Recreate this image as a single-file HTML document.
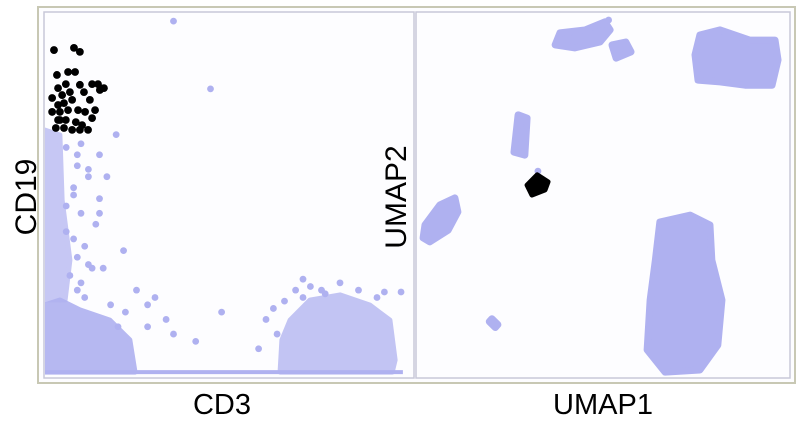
<!DOCTYPE html>
<html><head><meta charset="utf-8"><style>
html,body{margin:0;padding:0;background:#fff;}
body{width:800px;height:422px;overflow:hidden;font-family:"Liberation Sans",sans-serif;}
</style></head><body>
<svg id="c" width="800" height="422" xmlns="http://www.w3.org/2000/svg">
<defs><clipPath id="lc"><rect x="45" y="13" width="368" height="364"/></clipPath></defs>
<rect x="38" y="7" width="757" height="376" fill="#fdfdff" stroke="#c8c8b4" stroke-width="2"/>
<rect x="44" y="12" width="370" height="366" fill="#fdfdff" stroke="#c8c8d8" stroke-width="1.5"/>
<rect x="416" y="12" width="374" height="366" fill="#fdfdff" stroke="#c8c8d8" stroke-width="1.5"/>
<g id="left" clip-path="url(#lc)"></g>
<g id="right"></g>
<text x="36" y="197" font-size="30" text-anchor="middle" transform="rotate(-90 36 197)" fill="#000">CD19</text>
<text x="222" y="414" font-size="29" text-anchor="middle" fill="#000">CD3</text>
<text x="406" y="197" font-size="30" text-anchor="middle" transform="rotate(-90 406 197)" fill="#000">UMAP2</text>
<text x="603" y="414" font-size="29" text-anchor="middle" fill="#000">UMAP1</text>
</svg>
<script>
// Left panel data (CD3, CD19 in 0-100 units)
const gatedCD3 = [2.7,8.1,9.7,3.5,6.5,8.4,3.8,5.9,9.7,13,14.6,10.8,15.1,7,2.2,3.8,5.4,7.6,12.4,2.2,4.3,6.5,9.2,11.1,13,4.3,5.9,8.6,10.3,3.2,5.4,7.6,9.7,3.8,16.2,13.8,4.9,11.9];
const gatedCD19 = [89.6,90.2,89.1,82.8,83.6,83.6,79.2,80.3,80.1,80.3,80.3,78.1,78.7,78.1,76.5,74.6,75.1,76,76,72.7,72.7,73.2,73.2,72.7,71,70.5,70.5,69.9,69.1,68.3,68.3,67.8,67.8,70.5,79.2,73.2,77.3,67.8];
const otherCD3 = [35,45,19.5,15,21.5,6,9,12,8,10,14,6,11,9,13,7,10,8,12,15,6,9,11,18,22,30,28,35,41,48,58,60,63,25,20,16,28,33,96.5,92,68,70,65,72,75,70,76,80,85,90,62,17,12,9,15,8,10];
const otherCD19 = [97.5,79,66.5,61,34.8,63,58,55,50,45,42,40,36,33,30,28,26,38,31,45,47,24,22,20,18,22,14,12,10,18,8,16,12,24,14,30,20,16,23.5,23.5,24,22,21,25,24,27,23,26,24,22,19,55,57,61,49,52,64];
const blobCD3 = [[0,4.3,9.7,17.8,23.2,24.6,0],[0,4.3,4.9,7,5.7,0],[66.5,71.9,80,88.1,93.5,94.9,94.1,63.8,64.3]];
const blobCD19 = [[19.9,21.3,18.6,15.8,10.4,1.6,1.6],[67.8,66.4,48.6,32.2,21.3,21.3],[15.8,21.3,22.7,19.9,15.8,4.9,1.6,1.6,10.4]];
const floorCD3 = [0,97];
const floorCD19 = [1.6,1.6];
// Right panel data (UMAP1, UMAP2 in 0-100 units)
const clusterU1 = [[37.2,38.5,45.2,50.5,51.9,49.2,42.5],[52.4,56.1,57.5,53.5],[75.9,81.3,89.3,96,96.8,95.2,88,81.3,75.4,74.6],[27.3,29.7,29.1,26.2],[2.4,6.4,10.4,11.2,8.6,3.7,1.9],[65.2,73.3,78.6,79.1,81.8,80.7,75.9,66.6,61.8,62.6,64],[20.3,21.9,21.2,19.6]];
const clusterU2 = [[91,94.3,95.1,97.3,95.1,91.8,90.2],[91,91.8,89.1,87.4],[93.7,95.1,92.3,92.3,86.9,80,80,80.9,81.4,88.3],[71.9,71,60.9,61.7],[41.8,47.3,49.2,45.4,40.4,37.2,38.3],[42.6,44.5,41.8,32.2,21.3,9,2.2,1.6,7.7,21.3,32.2],[16.2,14.6,13.8,15.4]];
const gatedU1 = [29.7,32.4,35.3,34.5,31];
const gatedU2 = [52.7,55.5,53.6,51.4,50];
const strayU1 = [51.5,32.6];
const strayU2 = [97.8,56.5];

const NS="http://www.w3.org/2000/svg";
const BLUE="#afb1f0";
const lx=v=>44+v*3.7, ly=v=>378-v*3.66;
const rx=v=>416+v*3.74, ry=v=>378-v*3.66;
const L=document.getElementById('left'), R=document.getElementById('right');
function mk(tag,attrs,parent){const e=document.createElementNS(NS,tag);for(const k in attrs)e.setAttribute(k,attrs[k]);parent.appendChild(e);return e;}
const blobOpacity=[0.9,0.7,0.75];
blobCD3.forEach((xs,i)=>{
  const pts=xs.map((x,j)=>lx(x)+','+ly(blobCD19[i][j])).join(' ');
  const e=mk('polygon',{points:pts,fill:BLUE,opacity:blobOpacity[i],stroke:BLUE,'stroke-width':5,'stroke-linejoin':'round'},L);
  
  
});
{
  const e=mk('line',{x1:lx(floorCD3[0]),y1:ly(floorCD19[0]),x2:lx(floorCD3[1]),y2:ly(floorCD19[1]),stroke:BLUE,'stroke-width':4},L);
  
  
}
otherCD3.forEach((x,i)=>{
  const e=mk('circle',{cx:lx(x),cy:ly(otherCD19[i]),r:3.4,fill:BLUE},L);
  
  
});
gatedCD3.forEach((x,i)=>{
  const e=mk('circle',{cx:lx(x),cy:ly(gatedCD19[i]),r:3.9,fill:'#000'},L);
  
  
});
clusterU1.forEach((xs,i)=>{
  const pts=xs.map((x,j)=>rx(x)+','+ry(clusterU2[i][j])).join(' ');
  const e=mk('polygon',{points:pts,fill:BLUE,stroke:BLUE,'stroke-width':7,'stroke-linejoin':'round'},R);
  
  
});
strayU1.forEach((x,i)=>{
  const e=mk('circle',{cx:rx(x),cy:ry(strayU2[i]),r:3.4,fill:BLUE},R);
  
  
});
{
  const pts=gatedU1.map((x,j)=>rx(x)+','+ry(gatedU2[j])).join(' ');
  const e=mk('polygon',{points:pts,fill:'#000',stroke:'#000','stroke-width':5,'stroke-linejoin':'round'},R);
  
  
}
</script>
</body></html>
